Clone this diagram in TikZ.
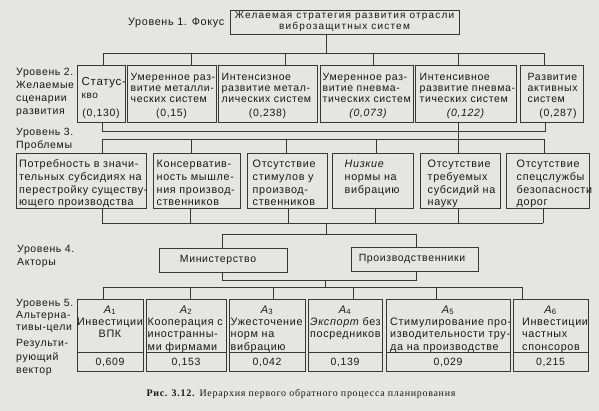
\documentclass[tikz,border=0pt]{standalone}
\usepackage{fontspec}
\setmainfont{Liberation Sans}[LetterSpace=6]
\newfontfamily\widefont{Liberation Sans}[LetterSpace=12]
\newfontfamily\capfont{Liberation Serif}[LetterSpace=7]
\definecolor{paper}{RGB}{229,229,227}
\definecolor{ink}{RGB}{25,25,25}
\definecolor{linec}{RGB}{55,55,55}
\newcommand\altname[1]{{\itshape A}\textsubscript{#1}}
\begin{document}
\begin{tikzpicture}[x=1pt,y=-1pt,
  box/.style={draw=linec, line width=0.9pt, inner sep=0pt, outer sep=0pt, anchor=north west},
  conn/.style={draw=linec, line width=0.8pt},
  lbl/.style={inner sep=0pt, anchor=north west, align=left, text=ink, font=\fontsize{10.5}{13.2}\selectfont},
  t2/.style={inner sep=0pt, anchor=north west, align=left, text=ink, font=\fontsize{10.5}{11}\selectfont},
  t3/.style={inner sep=0pt, anchor=north west, align=left, text=ink, font=\fontsize{10.8}{12.7}\selectfont},
  t5/.style={inner sep=0pt, anchor=north west, align=left, text=ink, font=\fontsize{10.8}{12.5}\selectfont},
  val/.style={inner sep=0pt, anchor=base, text=ink, font=\fontsize{10.5}{13}\selectfont},
  an/.style={inner sep=0pt, anchor=base, text=ink, font=\fontsize{11}{13}\selectfont}]
\path[fill=paper] (0,0) rectangle (599,411);
\useasboundingbox (0,0) rectangle (599,411);

% ---------- Level 1
\node[box, minimum width=229pt, minimum height=24pt, align=center, text=ink,
      font=\widefont\fontsize{10}{11}\selectfont, yshift=-1pt] (f) at (230,9)
      {Желаемая стратегия развития отрасли\\виброзащитных систем};
\node[lbl, anchor=base west, font=\fontsize{10.8}{13}\selectfont] (l1) at (128,25.5) {Уровень 1. Фокус};

% ---------- Level 2
\node[box, minimum width=48pt,  minimum height=57pt] (s1) at (77,65) {};
\node[box, minimum width=89pt,  minimum height=57pt] (s2) at (127,65) {};
\node[box, minimum width=99pt,  minimum height=57pt] (s3) at (218,65) {};
\node[box, minimum width=93pt,  minimum height=57pt] (s4) at (320,65) {};
\node[box, minimum width=101pt, minimum height=57pt] (s5) at (415,65) {};
\node[box, minimum width=63pt,  minimum height=57pt] (s6) at (520,65) {};

\node[t2, font=\fontsize{11.5}{13}\selectfont, xshift=4.5pt, yshift=-10.9pt] (s1t) at (s1.north west)
  {\strut Статус-\\{\fontsize{10}{11}\selectfont кво}};
\node[t2, xshift=3.5pt, yshift=-7.8pt] (s2t) at (s2.north west)
  {\strut Умеренное раз-\\витие металли-\\ческих систем};
\node[t2, xshift=3.5pt, yshift=-7.8pt] (s3t) at (s3.north west)
  {\strut Интенсизное\\развитие метал-\\лических систем};
\node[t2, xshift=2.5pt, yshift=-7.8pt] (s4t) at (s4.north west)
  {\strut Умеренное раз-\\витие пневма-\\тических систем};
\node[t2, xshift=4.5pt, yshift=-7.8pt] (s5t) at (s5.north west)
  {\strut Интенсивное\\развитие пневма-\\тических систем};
\node[t2, xshift=7.5pt, yshift=-7.8pt] (s6t) at (s6.north west)
  {\strut Развитие\\активных\\систем};

\node[val, yshift=5pt] (s1v) at (s1.south) {(0,130)};
\node[val, yshift=5pt] (s2v) at (s2.south) {(0,15)};
\node[val, yshift=5pt] (s3v) at (s3.south) {(0,238)};
\node[val, yshift=5pt, xshift=1.5pt] (s4v) at (s4.south) {\itshape(0,073)};
\node[val, yshift=5pt] (s5v) at (s5.south) {\itshape(0,122)};
\node[val, yshift=5pt, xshift=6.5pt] (s6v) at (s6.south) {(0,287)};

\node[lbl] (l2) at (16,67.5) {Уровень 2.\\Желаемые\\сценарии\\развития};

% connectors level 1 -> level 2
\coordinate (f0) at (326,53);
\draw[conn] (f0 |- f.south) -- (f0);
\coordinate (b1a) at (103,53);
\coordinate (b1b) at (544,53);
\draw[conn] (b1a) -- (b1b);
\foreach \x/\n in {103/s1,191/s2,285/s3,373/s4,458/s5,544/s6}{
  \coordinate (u\n) at (\x,53);
  \draw[conn] (u\n) -- (u\n |- \n.north);
}

% ---------- Level 3
\node[box, minimum width=130pt, minimum height=55pt] (p1) at (16,153) {};
\node[box, minimum width=87pt,  minimum height=55pt] (p2) at (153,153) {};
\node[box, minimum width=80pt,  minimum height=55pt] (p3) at (247,153) {};
\node[box, minimum width=81pt,  minimum height=55pt] (p4) at (332,153) {};
\node[box, minimum width=80pt,  minimum height=55pt] (p5) at (420,153) {};
\node[box, minimum width=83pt,  minimum height=55pt] (p6) at (506,153) {};

\node[t3, xshift=3pt, yshift=-5.8pt] (p1t) at (p1.north west)
  {\strut Потребность в значи-\\тельных субсидиях на\\перестройку существу-\\ющего производства};
\node[t3, xshift=3.5pt, yshift=-5.8pt] (p2t) at (p2.north west)
  {\strut Консерватив-\\ность мышле-\\ния производ-\\ственников};
\node[t3, xshift=5.5pt, yshift=-5.8pt] (p3t) at (p3.north west)
  {\strut Отсутствие\\стимулов у\\производ-\\ственников};
\node[t3, xshift=12.5pt, yshift=-5.8pt] (p4t) at (p4.north west)
  {\strut\itshape Низкие\\нормы на\\вибрацию};
\node[t3, xshift=7.5pt, yshift=-5.8pt] (p5t) at (p5.north west)
  {\strut Отсутствие\\требуемых\\субсидий на\\науку};
\node[t3, xshift=10.5pt, yshift=-5.8pt] (p6t) at (p6.north west)
  {\strut Отсутствие\\спецслужбы\\безопасности\\дорог};

\node[lbl] (l3) at (16,128) {Уровень 3.\\Проблемы};

% connectors level 2 -> level 3
\coordinate (k1) at (102,131);
\coordinate (k2) at (545,131);
\draw[conn] (k1 |- s1.south) -- (k1) -- (k2) -- (k2 |- s6.south);
\coordinate (k5) at (458,131);
\draw[conn] (k5 |- s5.south) -- (k5);
\coordinate (b2a) at (102,139);
\coordinate (b2b) at (545,139);
\draw[conn] (b2a) -- (b2b);
\draw[conn] (k5) -- (k5 |- b2a);
\foreach \x/\n in {102/p1,191/p2,286/p3,376/p4,458/p5,544/p6}{
  \coordinate (v\n) at (\x,139);
  \draw[conn] (v\n) -- (v\n |- \n.north);
}

% ---------- Level 4
\node[box, minimum width=128pt, minimum height=24pt, text=ink,
      font=\fontsize{10.5}{13}\selectfont] (m) at (159,248) {\hspace*{-10pt}Министерство};
\node[box, minimum width=127pt, minimum height=24pt, text=ink,
      font=\fontsize{10.5}{13}\selectfont] (pr) at (351,247) {\hspace*{-5pt}Производственники};
\node[lbl] (l4) at (17,245) {Уровень 4.\\Акторы};

% connectors level 3 -> level 4
\foreach \x/\n in {102/p1,190/p2,288/p3,375/p4,458/p5,543/p6}{
  \coordinate (w\n) at (\x,223);
  \draw[conn] (w\n |- \n.south) -- (w\n);
}
\coordinate (b3a) at (102,223);
\coordinate (b3b) at (543,223);
\draw[conn] (b3a) -- (b3b);
\coordinate (c3) at (326,223);
\coordinate (c4) at (326,234);
\draw[conn] (c3) -- (c4);
\coordinate (mq) at (222,234);
\coordinate (pq) at (416,234);
\draw[conn] (mq |- m.north) -- (mq) -- (pq) -- (pq |- pr.north);

% ---------- Level 5
\node[box, minimum width=66pt,  minimum height=53pt] (a1) at (77,299) {};
\node[box, minimum width=80pt,  minimum height=53pt] (a2) at (146,299) {};
\node[box, minimum width=76pt,  minimum height=53pt] (a3) at (229,299) {};
\node[box, minimum width=74pt,  minimum height=53pt] (a4) at (308,299) {};
\node[box, minimum width=124pt, minimum height=53pt] (a5) at (386,299) {};
\node[box, minimum width=75pt,  minimum height=53pt] (a6) at (513,299) {};

\foreach \n/\w in {a1/66,a2/80,a3/76,a4/74,a5/124,a6/75}{
  \node[box, minimum width=\w pt, minimum height=19pt] (\n v) at (\n.south west) {};
}

\foreach \n/\i in {a1/1,a2/2,a3/3,a4/4,a5/5,a6/6}{
  \node[an, yshift=-14pt] (\n h) at (\n.north) {\altname{\i}};
}

\node[t5, anchor=north, yshift=-17.2pt, align=center] (a1t) at (a1.north) {\strut Инвестиции\\ВПК};
\node[t5, xshift=1.5pt, yshift=-17.2pt] (a2t) at (a2.north west) {\strut Кооперация с\\иностранны-\\ми фирмами};
\node[t5, xshift=1.5pt, yshift=-17.2pt] (a3t) at (a3.north west) {\strut Ужесточение\\норм на\\вибрацию};
\node[t5, xshift=2pt, yshift=-17.2pt] (a4t) at (a4.north west) {\strut\itshape Экспорт \upshape без\\посредников};
\node[t5, xshift=4pt, yshift=-17.2pt] (a5t) at (a5.north west) {\strut Стимулирование про-\\изводительности тру-\\да на производстве};
\node[t5, xshift=9pt, yshift=-17.2pt] (a6t) at (a6.north west) {\strut Инвестиции\\частных\\спонсоров};

\node[val, yshift=-13pt] (a1n) at (a1v.north) {0,609};
\node[val, yshift=-13pt] (a2n) at (a2v.north) {0,153};
\node[val, yshift=-13pt] (a3n) at (a3v.north) {0,042};
\node[val, yshift=-13pt] (a4n) at (a4v.north) {0,139};
\node[val, yshift=-13pt] (a5n) at (a5v.north) {0,029};
\node[val, yshift=-13pt] (a6n) at (a6v.north) {0,215};

\node[lbl, font=\fontsize{10.5}{12}\selectfont] (l5) at (16,298.6) {Уровень 5.\\Альтерна-\\тивы-цели};
\node[lbl, font=\fontsize{10.5}{13.5}\selectfont] (l6) at (16,339.5) {Результи-\\рующий\\вектор};

% connectors level 4 -> level 5
\coordinate (mr) at (222,280);
\coordinate (pr2) at (416,280);
\draw[conn] (mr |- m.south) -- (mr) -- (pr2) -- (pr2 |- pr.south);
\coordinate (c5) at (325,280);
\coordinate (c6) at (325,287);
\draw[conn] (c5) -- (c6);
\coordinate (b5a) at (103,287);
\coordinate (b5b) at (522,287);
\draw[conn] (b5a) -- (b5b);
\foreach \x/\n in {103/a1,190/a2,273/a3,353/a4,436/a5,522/a6}{
  \coordinate (z\n) at (\x,287);
  \draw[conn] (z\n) -- (z\n |- \n.north);
}

% ---------- Caption
\node[inner sep=0pt, anchor=base, text=ink, font=\capfont\fontsize{10}{11}\selectfont] (cap) at (301,396)
  {\textbf{Рис. 3.12.} Иерархия первого обратного процесса планирования};
\end{tikzpicture}
\end{document}
